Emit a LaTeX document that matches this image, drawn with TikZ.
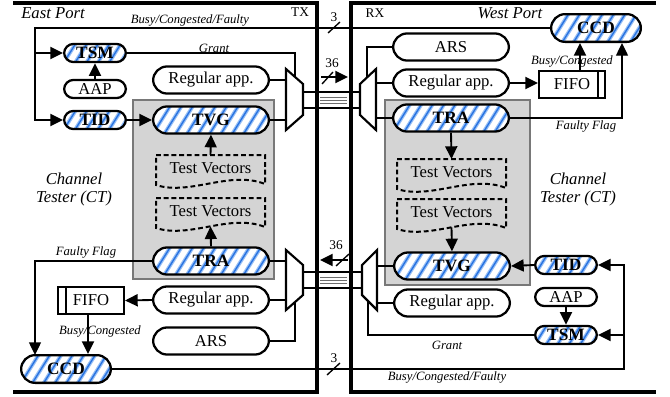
\documentclass[tikz,border=0pt]{standalone}
\usepackage{fontspec}
\setmainfont{Liberation Serif}
\usetikzlibrary{arrows.meta}

\definecolor{panelgray}{RGB}{212,212,212}
\definecolor{paneledge}{RGB}{120,120,120}
\definecolor{stripelight}{RGB}{150,190,245}
\definecolor{stripecore}{RGB}{40,115,225}
\definecolor{busgray}{RGB}{110,110,110}

\tikzset{
  lbl/.style={font=\fontsize{12.5}{14}\selectfont},
  blbl/.style={font=\fontsize{13}{14}\selectfont\bfseries},
  note/.style={font=\fontsize{9.5}{11}\selectfont\itshape, inner sep=0pt},
  title/.style={font=\fontsize{12.5}{14}\selectfont\itshape, inner sep=0pt},
  tag/.style={font=\fontsize{10}{11}\selectfont, inner sep=0pt},
  frame/.style={line width=2.3pt},
  panel/.style={fill=panelgray, draw=paneledge, line width=0.8pt},
  pill/.style={draw, line width=1.7pt, fill=white, inner sep=0pt, rounded corners=#1},
  pill/.default=10pt,
  bigpill/.style={pill=10.5pt, minimum width=86.8pt, minimum height=20.3pt, lbl},
  smallpill/.style={pill=7pt, minimum width=46.3pt, minimum height=13.6pt, lbl},
  ccdpill/.style={pill=10.5pt, minimum width=67.3pt, minimum height=20.8pt, lbl},
  fifobox/.style={draw, line width=1.8pt, fill=white, inner sep=0pt,
    minimum width=49.2pt, minimum height=20pt, lbl},
  mux/.style={draw, fill=white, line width=1.6pt, line join=miter},
  conn/.style={line width=1.4pt},
  thinconn/.style={line width=1pt},
  bus/.style={line width=1.5pt},
  busfine/.style={draw=busgray, line width=0.7pt},
  dashdoc/.style={draw, line width=1.5pt, dash pattern=on 3.6pt off 2.2pt},
  hatch/.style={path picture={
    \foreach \k in {-4,...,14}{
      \draw[stripelight, line width=2.8pt]
        ([xshift=\k*8.5pt]path picture bounding box.south west) -- ++(15pt,24pt);
      \draw[stripecore, line width=1pt]
        ([xshift=\k*8.5pt]path picture bounding box.south west) -- ++(15pt,24pt);
    }}},
  tvdoc/.pic={
    \draw[dashdoc] (0,0) -- (109,0) -- (109,29)
      .. controls (74,15) and (34,41) .. (0,30) -- cycle;
    \coordinate (-top) at (54.5,0);
    \coordinate (-bot) at (54.5,28.4);
    \node[lbl] (-text) at (54.5,13) {Test Vectors};
  }
}

\begin{document}
\begin{tikzpicture}[x=0.75pt,y=-0.75pt,>={Triangle[length=9.5pt,width=9pt]}]
\useasboundingbox (0,0) rectangle (670,396);

% channel tester panels
\draw[panel] (133,100) rectangle (274,279);
\draw[panel] (385,100) rectangle (530,285);

% port frames
\draw[frame] (13,3) -- (317,3) -- (317,392) -- (13,392);
\draw[frame] (656,3) -- (351,3) -- (351,392) -- (656,392);

% titles and tags
\node[title] (eastTitle) at (53,13) {East Port};
\node[title] (westTitle) at (510,13) {West Port};
\node[tag] (txTag) at (300,12) {TX};
\node[tag] (rxTag) at (375,13) {RX};
\node[title, align=center, font=\fontsize{12.5}{13.5}\selectfont\itshape] (ctEast) at (74,189) {Channel\\Tester (CT)};
\node[title, align=center, font=\fontsize{12.5}{13.5}\selectfont\itshape] (ctWest) at (578,189) {Channel\\Tester (CT)};

% ---- East port blocks ----
\node[smallpill, hatch, blbl] (tsmE) at (95,53) {TSM};
\node[smallpill] (aapE) at (95,89) {AAP};
\node[smallpill, hatch, blbl] (tidE) at (95,120) {TID};
\node[bigpill] (regE1) at (211,80) {Regular app.};
\node[bigpill, hatch, blbl] (tvgE) at (211,120) {TVG};
\pic (tv1E) at (156,155) {tvdoc};
\pic (tv2E) at (156,198) {tvdoc};
\node[bigpill, hatch, blbl] (traE) at (211,261) {TRA};
\node[bigpill] (regE2) at (211,300) {Regular app.};
\node[bigpill] (arsE) at (211,341) {ARS};
\node[fifobox] (fifoE) at (91,300.5) {FIFO};
\draw[line width=1.8pt] (66,286) -- (66,315);
\node[ccdpill, hatch, blbl] (ccdE) at (66,369) {CCD};

% ---- West port blocks ----
\node[ccdpill, hatch, blbl] (ccdW) at (596,28) {CCD};
\node[bigpill] (arsW) at (451,47) {ARS};
\node[bigpill] (regW1) at (451,83) {Regular app.};
\node[bigpill, hatch, blbl] (traW) at (451,118) {TRA};
\pic (tv1W) at (397,159) {tvdoc};
\pic (tv2W) at (397,199) {tvdoc};
\node[bigpill, hatch, blbl] (tvgW) at (452,266) {TVG};
\node[bigpill] (regW2) at (452,303) {Regular app.};
\node[fifobox] (fifoW) at (572,84.5) {FIFO};
\draw[line width=1.8pt] (598,70) -- (598,99);
\node[smallpill, hatch, blbl] (tidW) at (566,265) {TID};
\node[smallpill] (aapW) at (566,297) {AAP};
\node[smallpill, hatch, blbl] (tsmW) at (566,335) {TSM};

% ---- multiplexers ----
\draw[mux] (286,69) -- (303,84) -- (303,115) -- (286,130) -- cycle;
\draw[mux] (286,250) -- (303,265) -- (303,295) -- (286,310) -- cycle;
\draw[mux] (376,69) -- (360,84) -- (360,115) -- (376,130) -- cycle;
\draw[mux] (377,250) -- (362,265) -- (362,295) -- (377,310) -- cycle;

\coordinate (muxE1a) at (286,80);
\coordinate (muxE1b) at (286,120);
\coordinate (muxE1sel) at (295,77.2);
\coordinate (muxE2a) at (286,261);
\coordinate (muxE2b) at (286,300);
\coordinate (muxE2sel) at (295,302);
\coordinate (muxW1a) at (376,83);
\coordinate (muxW1b) at (376,118);
\coordinate (muxW1sel) at (367,77.4);
\coordinate (muxW2a) at (377,266);
\coordinate (muxW2b) at (377,303);
\coordinate (muxW2sel) at (368,301);

% ---- links between the ports ----
\draw[bus] (303,92) -- (360,92);
\draw[bus] (303,108) -- (360,108);
\draw[busfine] (320,97) -- (347,97) (320,100) -- (347,100) (320,103) -- (347,103);
\draw[bus] (303,272) -- (362,272);
\draw[bus] (303,288) -- (362,288);
\draw[busfine] (320,277) -- (347,277) (320,280) -- (347,280) (320,283) -- (347,283);

\coordinate (w36a) at (321,77);
\coordinate (w36b) at (348,77);
\draw[conn,->] (w36a) -- (w36b);
\draw[thinconn] (322,84) -- (333,72);
\node[tag] (n36a) at (332,63) {36};
\coordinate (w36c) at (348,260);
\coordinate (w36d) at (320,260);
\draw[conn,->] (w36c) -- (w36d);
\draw[thinconn] (336,266) -- (349,254);
\node[tag] (n36b) at (336,245) {36};

% ---- East port connections ----
\coordinate (tapE) at (35,53);
\draw[conn,->] (ccdW.west) -| (35,120) -- (tidE.west);
\draw[conn,->] (tapE) -- (tsmE.west);
\draw[conn] (tsmE.east) -| (muxE1sel);
\draw[conn,->] (aapE.north) -- (tsmE.south);
\draw[conn,->] (tidE.east) -- (tvgE.west);
\draw[conn] (regE1.east) -- (muxE1a);
\draw[conn] (tvgE.east) -- (muxE1b);
\draw[conn,->] (tv1E-top) -- (tvgE.south);
\draw[conn,->] (traE.north) -- (tv2E-bot);
\draw[conn] (traE.east) -- (muxE2a);
\draw[conn] (regE2.east) -- (muxE2b);
\draw[conn] (arsE.east) -| (muxE2sel);
\draw[conn,->] (regE2.west) -- (fifoE.east);
\coordinate (fifoEtap) at ([xshift=-2.25pt]fifoE.south);
\draw[conn,->] (fifoEtap) -- (fifoEtap |- ccdE.north);
\coordinate (ccdEflag) at (35,355);
\draw[thinconn,->] (traE.west) -| (ccdEflag);

% ---- West port connections ----
\coordinate (tapW) at (624,335);
\draw[conn,->] (ccdE.east) -| (624,265) -- (tidW.east);
\draw[conn,->] (tapW) -- (tsmW.east);
\draw[conn] (tsmW.west) -| (muxW2sel);
\draw[conn,->] (aapW.south) -- (tsmW.north);
\draw[conn,->] (tidW.west) -- (tvgW.east);
\draw[conn] (tvgW.west) -- (muxW2a);
\draw[conn] (regW2.west) -- (muxW2b);
\draw[conn,->] (traW.south) -- (tv1W-top);
\draw[conn,->] (tv2W-bot) -- (tvgW.north);
\draw[conn] (arsW.west) -| (muxW1sel);
\draw[conn] (regW1.west) -- (muxW1a);
\draw[conn] (traW.west) -- (muxW1b);
\draw[conn,->] (regW1.east) -- (regW1.east -| fifoW.west);
\coordinate (fifoWtap) at ([xshift=6pt]fifoW.north);
\draw[conn,->] (fifoWtap) -- (fifoWtap |- ccdW.south);
\coordinate (ccdWflag) at ([xshift=19.5pt]ccdW.south);
\draw[thinconn,->] (traW.east) -| (ccdWflag);

% ---- bus width marks ----
\draw[thinconn] (328,33) -- (340,22);
\node[tag] (n3a) at (334,17) {3};
\draw[thinconn] (327,375) -- (340,363);
\node[tag] (n3b) at (334,358) {3};

% ---- signal labels ----
\node[note] (lblBusyTop) at (190,20) {Busy/Congested/Faulty};
\node[note] (lblBusyBot) at (447,377) {Busy/Congested/Faulty};
\node[note] (lblGrantE) at (214,48) {Grant};
\node[note] (lblGrantW) at (447,345) {Grant};
\node[note] (lblBCW) at (572,61) {Busy/Congested};
\node[note] (lblBCE) at (100,331) {Busy/Congested};
\node[note] (lblFaultW) at (586,126) {Faulty Flag};
\node[note] (lblFaultE) at (86,252) {Faulty Flag};

\end{tikzpicture}
\end{document}
